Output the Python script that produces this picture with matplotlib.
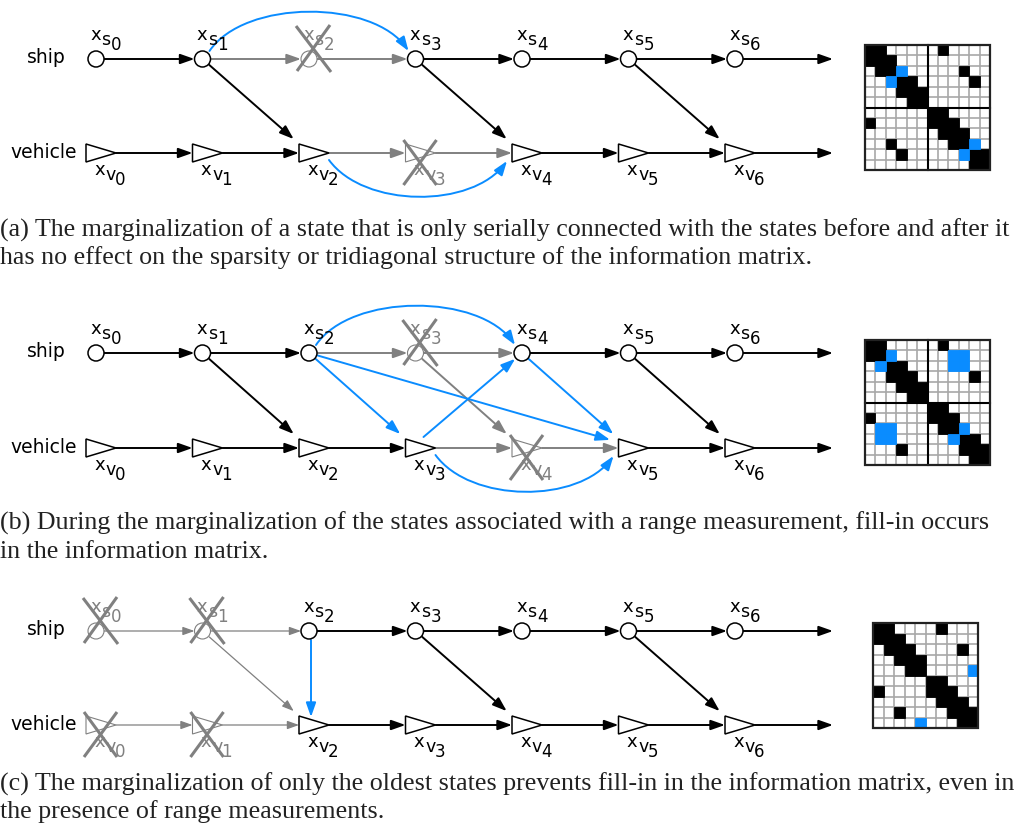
import matplotlib.pyplot as plt
from matplotlib.patches import Circle, Polygon, Rectangle, FancyArrowPatch
from matplotlib.path import Path

BLACK = "#000000"
GRAY = "#808080"
BLUE = "#0a8cff"
TEXT = "#222222"

NODE_X0 = 96
NODE_DX = 106.5
END_X = 833

# y of the ship row and the vehicle row in each panel
PANEL_ROWS = {"a": (59, 153), "b": (353, 448), "c": (631, 725)}

# graph edges, "end" = open arrow leaving the last state
A_BLACK = [("s0", "s1"), ("s3", "s4"), ("s4", "s5"), ("s5", "s6"), ("s6", "end"),
           ("v0", "v1"), ("v1", "v2"), ("v4", "v5"), ("v5", "v6"), ("v6", "end"),
           ("s1", "v2"), ("s3", "v4"), ("s5", "v6")]
A_GRAY = [("s1", "s2"), ("s2", "s3"), ("v2", "v3"), ("v3", "v4")]
A_THIN = []
A_BLUE = [("s1", "s3"), ("v2", "v4")]
A_CROSSED = ["s2", "v3"]

B_BLACK = [("s0", "s1"), ("s1", "s2"), ("s4", "s5"), ("s5", "s6"), ("s6", "end"),
           ("v0", "v1"), ("v1", "v2"), ("v2", "v3"), ("v5", "v6"), ("v6", "end"),
           ("s1", "v2"), ("s5", "v6")]
B_GRAY = [("s2", "s3"), ("s3", "s4"), ("v3", "v4"), ("v4", "v5"), ("s3", "v4")]
B_THIN = []
B_BLUE = [("s2", "s4"), ("s2", "v3"), ("s2", "v5"), ("v3", "s4"), ("s4", "v5"), ("v3", "v5")]
B_CROSSED = ["s3", "v4"]

C_BLACK = [("s2", "s3"), ("s3", "s4"), ("s4", "s5"), ("s5", "s6"), ("s6", "end"),
           ("v2", "v3"), ("v3", "v4"), ("v4", "v5"), ("v5", "v6"), ("v6", "end"),
           ("s3", "v4"), ("s5", "v6")]
C_GRAY = []
C_THIN = [("s0", "s1"), ("s1", "s2"), ("v0", "v1"), ("v1", "v2"), ("s1", "v2")]
C_BLUE = [("s2", "v2")]
C_CROSSED = ["s0", "s1", "v0", "v1"]

# information matrices: black columns per row, blue (row, col) cells
MAT_A_BLACK = [[0, 1, 7], [0, 1, 2], [1, 2, 9], [3, 4, 10], [3, 4, 5], [4, 5],
               [6, 7], [0, 6, 7, 8], [7, 8, 9], [2, 8, 9], [3, 10, 11], [10, 11]]
MAT_A_BLUE = [(2, 3), (3, 2), (9, 10), (10, 9)]
MAT_B_BLACK = [[0, 1, 7], [0, 1], [2, 3], [2, 3, 4, 10], [3, 4, 5], [4, 5],
               [6, 7], [0, 6, 7, 8], [7, 8], [9, 10], [3, 9, 10, 11], [10, 11]]
MAT_B_BLUE = [(1, 2), (2, 1), (1, 8), (1, 9), (2, 8), (2, 9),
              (8, 1), (8, 2), (9, 1), (9, 2), (8, 9), (9, 8)]
MAT_C_BLACK = [[0, 1, 6], [0, 1, 2], [1, 2, 3, 8], [2, 3, 4], [3, 4],
               [5, 6], [0, 5, 6, 7], [6, 7, 8], [2, 7, 8, 9], [8, 9]]
MAT_C_BLUE = [(4, 9), (9, 4)]

CAPTIONS = {
    "a": ["(a) The marginalization of a state that is only serially connected with the states before and after it",
          "has no effect on the sparsity or tridiagonal structure of the information matrix."],
    "b": ["(b) During the marginalization of the states associated with a range measurement, fill-in occurs",
          "in the information matrix."],
    "c": ["(c) The marginalization of only the oldest states prevents fill-in in the information matrix, even in",
          "the presence of range measurements."],
}
CAPTION_Y = {"a": (237, 264), "b": (530, 558), "c": (791, 818)}

PANELS = {
    "a": dict(black=A_BLACK, gray=A_GRAY, thin=A_THIN, blue=A_BLUE, crossed=A_CROSSED,
              mat=(MAT_A_BLACK, MAT_A_BLUE, (865, 45, 125 / 12), 6)),
    "b": dict(black=B_BLACK, gray=B_GRAY, thin=B_THIN, blue=B_BLUE, crossed=B_CROSSED,
              mat=(MAT_B_BLACK, MAT_B_BLUE, (865, 340, 125 / 12), 6)),
    "c": dict(black=C_BLACK, gray=C_GRAY, thin=C_THIN, blue=C_BLUE, crossed=C_CROSSED,
              mat=(MAT_C_BLACK, MAT_C_BLUE, (873, 623, 10.5), None)),
}


def node_xy(name, rows):
    idx = int(name[1:])
    return NODE_X0 + NODE_DX * idx, rows[0] if name[0] == "s" else rows[1]


def unit(dx, dy):
    n = (dx * dx + dy * dy) ** 0.5
    return dx / n, dy / n


def edge_geometry(src, dst, rows):
    """start point, end point and bulge (0 = straight) of one edge"""
    x1, y1 = node_xy(src, rows)
    if dst == "end":
        return (x1 + (8 if src[0] == "s" else 20), y1), (END_X, y1), 0
    x2, y2 = node_xy(dst, rows)
    gap = int(dst[1:]) - int(src[1:])
    if src[0] == dst[0]:
        if gap == 1 and src[0] == "s":
            return (x1 + 8, y1), (x2 - 8, y2), 0
        if gap == 1:
            return (x1 + 20, y1), (x2 - 10, y2), 0
        if src[0] == "s":
            return (x1 + 7, y1 - 8), (x2 - 7, y2 - 8), -52
        return (x1 + 20, y1 + 7), (x2 - 15, y2 + 8), 48
    if src[0] == "s" and gap == 0:
        return (x1 + 2, y1 + 9), (x2 + 2, y2 - 8), 0
    if src[0] == "s":
        ax_, ay_ = x2 - 4, y2 - 4
        ux, uy = unit(ax_ - x1, ay_ - y1)
        return (x1 + 9 * ux, y1 + 9 * uy), (ax_ - 15 * ux, ay_ - 15 * uy), 0
    sx, sy = x1 + 8, y1 - 11
    ux, uy = unit(x2 - sx, y2 - sy)
    return (sx, sy), (x2 - 9 * ux, y2 - 9 * uy), 0


def draw_edges(ax, edges, rows, color, lw, hl, hw):
    style = f"-|>,head_length={hl},head_width={hw}"
    for src, dst in edges:
        start, end, bulge = edge_geometry(src, dst, rows)
        if bulge:
            (xa, ya), (xb, yb) = start, end
            path = Path([start, (xa + 35, ya + bulge), (xb - 35, yb + bulge), end],
                        [Path.MOVETO, Path.CURVE4, Path.CURVE4, Path.CURVE4])
            arrow = FancyArrowPatch(path=path, arrowstyle=style, mutation_scale=10,
                                    color=color, lw=lw, zorder=2)
        else:
            arrow = FancyArrowPatch(start, end, arrowstyle=style, mutation_scale=10,
                                    color=color, lw=lw, shrinkA=0, shrinkB=0, zorder=2)
        ax.add_patch(arrow)


def draw_label(ax, name, x, y, color):
    if name[0] == "s":
        x0, base = x - 6, y - 19
    else:
        x0, base = x - 2, y + 22
    kw = dict(family="DejaVu Sans", color=color, ha="left", va="baseline", zorder=6)
    ax.text(x0, base, "x", fontsize=13, **kw)
    ax.text(x0 + 11.5, base + 5, name[0], fontsize=12.5, **kw)
    ax.text(x0 + 21, base + 10, name[1:], fontsize=12, **kw)


def draw_nodes(ax, rows, crossed):
    for kind in "sv":
        for idx in range(7):
            name = f"{kind}{idx}"
            x, y = node_xy(name, rows)
            gone = name in crossed
            color = GRAY if gone else BLACK
            if kind == "s":
                ax.add_patch(Circle((x, y), 8, facecolor="white", edgecolor=color,
                                    lw=0.8 if gone else 1.1, zorder=4))
            else:
                ax.add_patch(Polygon([(x - 10, y - 9), (x - 10, y + 9), (x + 20, y)],
                                     facecolor="white", edgecolor=color,
                                     lw=0.8 if gone else 1.1, zorder=4))
            draw_label(ax, name, x, y, color)
            if gone:
                if kind == "s":
                    segs = [((x - 13, y - 33), (x + 22, y + 13)), ((x + 21, y - 34), (x - 12, y + 12))]
                else:
                    segs = [((x - 12, y - 13), (x + 21, y + 32)), ((x + 21, y - 13), (x - 12, y + 32))]
                for (xa, ya), (xb, yb) in segs:
                    ax.plot([xa, xb], [ya, yb], color=GRAY, lw=2.2, zorder=7,
                            solid_capstyle="butt")


def draw_matrix(ax, black_rows, blue_cells, box, split):
    left, top, cell = box
    n = len(black_rows)
    size = n * cell
    ax.add_patch(Rectangle((left, top), size, size, facecolor="white", edgecolor="none", zorder=1))
    for k in range(1, n):
        ax.plot([left + k * cell] * 2, [top, top + size], color="#a8a8a8", lw=1.2, zorder=2)
        ax.plot([left, left + size], [top + k * cell] * 2, color="#a8a8a8", lw=1.2, zorder=2)
    for r, cols in enumerate(black_rows):
        for c in cols:
            ax.add_patch(Rectangle((left + c * cell, top + r * cell), cell, cell,
                                   facecolor=BLACK, edgecolor=BLACK, lw=0.6, zorder=3))
    for r, c in blue_cells:
        ax.add_patch(Rectangle((left + c * cell, top + r * cell), cell, cell,
                               facecolor=BLUE, edgecolor=BLUE, lw=0.6, zorder=3))
    if split:
        ax.plot([left + split * cell] * 2, [top, top + size], color=BLACK, lw=1.5, zorder=4)
        ax.plot([left, left + size], [top + split * cell] * 2, color=BLACK, lw=1.5, zorder=4)
    ax.add_patch(Rectangle((left, top), size, size, facecolor="none", edgecolor="#222222",
                           lw=1.6, zorder=5))


fig = plt.figure(figsize=(10.28, 8.27), dpi=100)
ax = fig.add_axes([0, 0, 1, 1])
ax.set_xlim(0, 1028)
ax.set_ylim(827, 0)
ax.axis("off")

for key, panel in PANELS.items():
    rows = PANEL_ROWS[key]
    draw_edges(ax, panel["black"], rows, BLACK, 1.4, 0.85, 0.3)
    draw_edges(ax, panel["gray"], rows, GRAY, 1.4, 0.85, 0.3)
    draw_edges(ax, panel["thin"], rows, GRAY, 0.9, 0.7, 0.25)
    draw_edges(ax, panel["blue"], rows, BLUE, 1.4, 0.85, 0.3)
    draw_nodes(ax, rows, panel["crossed"])

    ax.text(27, rows[0] + 4, "ship", family="DejaVu Sans", fontsize=13.5, va="baseline")
    ax.text(10, rows[1] + 5, "vehicle", family="DejaVu Sans", fontsize=13.5, va="baseline")

    black_rows, blue_cells, box, split = panel["mat"]
    draw_matrix(ax, black_rows, blue_cells, box, split)

    for line, y in zip(CAPTIONS[key], CAPTION_Y[key]):
        ax.text(0, y, line, family="Liberation Serif", fontsize=18.7, color=TEXT,
                ha="left", va="baseline")

fig.savefig("out.png", dpi=100)
